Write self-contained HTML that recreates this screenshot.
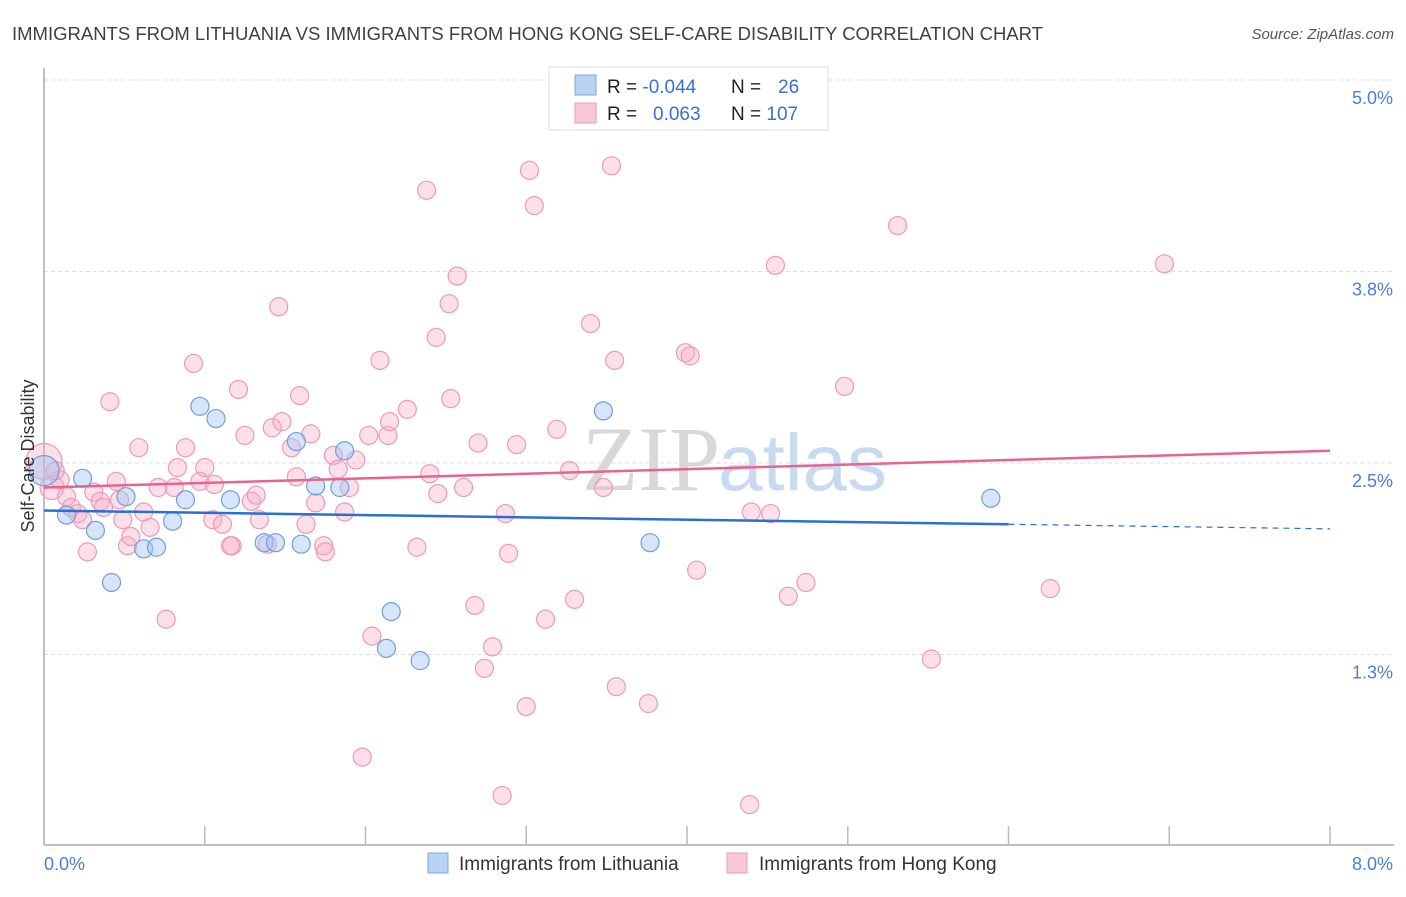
<!DOCTYPE html>
<html><head><meta charset="utf-8"><style>
body{margin:0;background:#fff;font-family:"Liberation Sans",sans-serif}
</style></head><body>
<svg width="1406" height="892" xmlns="http://www.w3.org/2000/svg" font-family="Liberation Sans, sans-serif">
<text x="12" y="40" font-size="18.5" fill="#404040">IMMIGRANTS FROM LITHUANIA VS IMMIGRANTS FROM HONG KONG SELF-CARE DISABILITY CORRELATION CHART</text>
<text x="1394" y="39" font-size="15" font-style="italic" fill="#555" text-anchor="end">Source: ZipAtlas.com</text>
<g id="grid"></g>
<text x="720" y="490" font-size="92" font-family="Liberation Serif, serif" fill="#d8d8d8" text-anchor="end">ZIP</text>
<text x="718" y="490" font-size="80" fill="#c7daf2">atlas</text>
<line x1="44" y1="68" x2="44" y2="845" stroke="#aaa" stroke-width="1.5"/>
<line x1="44" y1="845" x2="1394" y2="845" stroke="#aaa" stroke-width="1.5"/>
<g id="xticks"></g>
<g id="ylabels"></g>
<g id="pink"></g>
<g id="blue"></g>
<g id="trends"></g>
<text x="44" y="870" font-size="18" fill="#4a7fd6">0.0%</text>
<text x="1393" y="870" font-size="18" fill="#4a7fd6" text-anchor="end">8.0%</text>
<text transform="translate(34,456) rotate(-90)" font-size="18" fill="#333" text-anchor="middle">Self-Care Disability</text>
<g>
<rect x="549" y="67" width="279" height="63" fill="#fff" stroke="#ddd"/>
<rect x="575" y="75" width="21" height="20" fill="#b9d3f5" stroke="#7aa7e4"/>
<rect x="575" y="103" width="21" height="20" fill="#f9c8d8" stroke="#ec9ab6"/>
<text x="607" y="93" font-size="19" fill="#222">R = <tspan fill="#3a6fd0">-0.044</tspan></text>
<text x="731" y="93" font-size="19" fill="#222">N = <tspan fill="#3a6fd0" x="778">26</tspan></text>
<text x="607" y="120" font-size="19" fill="#222">R = <tspan fill="#3a6fd0" x="653">0.063</tspan></text>
<text x="731" y="120" font-size="19" fill="#222">N = <tspan fill="#3a6fd0">107</tspan></text>
</g>
<g>
<rect x="428" y="853" width="20" height="20" fill="#b9d3f5" stroke="#7aa7e4"/>
<text x="459" y="870" font-size="19" fill="#333">Immigrants from Lithuania</text>
<rect x="727" y="853" width="20" height="20" fill="#f9c8d8" stroke="#ec9ab6"/>
<text x="759" y="870" font-size="19" fill="#333">Immigrants from Hong Kong</text>
</g>
</svg>
<script>
const yTicks=[5.0,3.75,2.5,1.25];
const yTickLabels=["5.0%","3.8%","2.5%","1.3%"];
const xTicks=[1,2,3,4,5,6,7,8];
const blueX=[0,0.14,0.24,0.32,0.42,0.51,0.62,0.70,0.80,0.88,0.97,1.07,1.16,1.37,1.44,1.57,1.60,1.69,1.84,1.87,2.16,2.13,2.34,3.48,3.77,5.89];
const blueY=[2.45,2.16,2.40,2.06,1.72,2.28,1.94,1.95,2.12,2.26,2.87,2.79,2.26,1.98,1.98,2.64,1.97,2.35,2.34,2.58,1.53,1.29,1.21,2.84,1.98,2.27];
const blueR=[15,9,9,9,9,9,9,9,9,9,9,9,9,9,9,9,9,9,9,9,9,9,9,9,9,9];
const pinkX=[0,0.05,0.10,0.14,0.17,0.21,0.24,0.27,0.31,0.35,0.37,0.41,0.45,0.49,0.52,0.54,0.59,0.62,0.66,0.71,0.76,0.81,0.83,0.88,0.93,0.97,1.00,1.05,1.06,1.11,1.17,1.21,1.25,1.29,1.32,1.34,1.39,1.42,1.46,1.48,1.54,1.57,1.59,1.63,1.66,1.69,1.74,1.75,1.80,1.83,1.87,1.90,1.94,2.02,2.04,2.09,2.14,2.15,2.26,2.32,2.38,2.40,2.44,2.45,2.52,2.53,2.57,1.98,2.61,2.68,2.70,2.74,2.79,2.85,2.87,2.89,2.94,3.00,3.02,3.05,3.12,3.19,3.27,3.30,3.40,3.48,3.53,3.55,3.56,3.76,3.99,4.02,4.06,4.40,4.52,4.39,4.55,4.63,4.74,4.98,5.31,5.52,6.26,6.97,0.07,0.47,1.16];
const pinkY=[2.51,2.34,2.39,2.28,2.21,2.17,2.13,1.92,2.31,2.25,2.21,2.90,2.38,2.13,1.96,2.02,2.60,2.18,2.08,2.34,1.48,2.34,2.47,2.60,3.15,2.38,2.47,2.13,2.36,2.10,1.96,2.98,2.68,2.25,2.29,2.13,1.97,2.73,3.52,2.77,2.60,2.41,2.94,2.10,2.69,2.24,1.96,1.92,2.55,2.46,2.18,2.34,2.52,2.68,1.37,3.17,2.68,2.77,2.85,1.95,4.28,2.43,3.32,2.30,3.54,2.92,3.72,0.58,2.34,1.57,2.63,1.16,1.30,0.33,2.17,1.91,2.62,0.91,4.41,4.18,1.48,2.72,2.45,1.61,3.41,2.34,4.44,3.17,1.04,0.93,3.22,3.20,1.80,2.18,2.17,0.27,3.79,1.63,1.72,3.00,4.05,1.22,1.68,3.80,2.45,2.26,1.96];
const blueTrend=[2.19,2.07];
const pinkTrend=[2.34,2.58];
const blueSolidEnd=6.0;

const NS="http://www.w3.org/2000/svg";
const x0=44,x1=1330,yTop=80,yPer=153.2;
function sx(v){return x0+(x1-x0)*v/8;}
function sy(v){return yTop+(5-v)*yPer;}
function mk(tag,attrs,parent){const e=document.createElementNS(NS,tag);for(const k in attrs)e.setAttribute(k,attrs[k]);parent.appendChild(e);return e;}
const grid=document.getElementById('grid'),yl=document.getElementById('ylabels'),xt=document.getElementById('xticks');
yTicks.forEach((t,i)=>{
  const l=mk('line',{x1:44,x2:1394,y1:sy(t),y2:sy(t),stroke:'#ddd','stroke-dasharray':'4,3'},grid);
  
  
  const tx=mk('text',{x:1393,y:sy(t)+24,'font-size':18,fill:'#4a7fd6','text-anchor':'end'},yl);
  tx.textContent=yTickLabels[i];
  
  
});
xTicks.forEach(t=>{
  const l=mk('line',{x1:sx(t),x2:sx(t),y1:826,y2:845,stroke:'#bbb','stroke-width':1.5},xt);
  
  
});
const pg=document.getElementById('pink');
pinkX.forEach((v,i)=>{
  const r=i===0?18:(i===1?12:9);
  const c=mk('circle',{cx:sx(v),cy:sy(pinkY[i]),r:r,fill:'rgba(246,170,196,0.38)',stroke:'#ec9ab6','stroke-width':1.2},pg);
  
  
});
const bg=document.getElementById('blue');
blueX.forEach((v,i)=>{
  const c=mk('circle',{cx:sx(v),cy:sy(blueY[i]),r:blueR[i],fill:'rgba(165,198,242,0.45)',stroke:'#6f9fe2','stroke-width':1.2},bg);
  
  
});
const tg=document.getElementById('trends');
function ty(tr,x){return tr[0]+(tr[1]-tr[0])*x/8;}
const pl=mk('line',{x1:sx(0),y1:sy(pinkTrend[0]),x2:sx(8),y2:sy(pinkTrend[1]),stroke:'#e8648e','stroke-width':2.5},tg);


const bl=mk('line',{x1:sx(0),y1:sy(blueTrend[0]),x2:sx(blueSolidEnd),y2:sy(ty(blueTrend,blueSolidEnd)),stroke:'#2a6fd6','stroke-width':2.5},tg);


const bd=mk('line',{x1:sx(blueSolidEnd),y1:sy(ty(blueTrend,blueSolidEnd)),x2:sx(8),y2:sy(blueTrend[1]),stroke:'#2a6fd6','stroke-width':1.2,'stroke-dasharray':'6,5'},tg);


</script>
</body></html>
